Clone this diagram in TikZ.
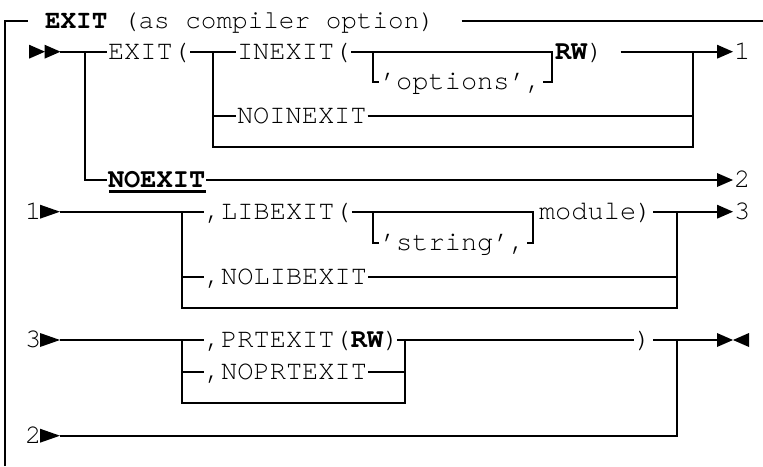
\documentclass[tikz,border=0pt]{standalone}
\usepackage{fontspec}
\newfontfamily\cour{texgyrecursor-regular.otf}[BoldFont=texgyrecursor-bold.otf]
\begin{document}
\begin{tikzpicture}[x=1pt,y=-1pt,line width=2pt,
  txt/.style={anchor=west,inner sep=0pt,text height=18pt,text depth=2.8pt,
    font=\cour\fontsize{27}{30}\selectfont},
  ttl/.style={txt,font=\cour\fontsize{26}{30}\selectfont},
  tri/.pic={\fill (0,-7) -- (16,0) -- (0,7) -- cycle;},
  widetri/.pic={\fill (0,-7) -- (20,0) -- (0,7) -- cycle;},
  ltri/.pic={\fill (16,-7) -- (0,0) -- (16,7) -- cycle;}]
\useasboundingbox (0,0) rectangle (763,466);
\def\yA{20.7}\def\yB{51.7}\def\yC{81.7}\def\yD{115.5}\def\yE{146.7}
\def\yF{180}\def\yG{211.7}\def\yH{243}\def\yI{276.7}\def\yJ{307.7}
\def\yK{340}\def\yL{371.7}\def\yM{403.3}\def\yN{435.7}
% title and left border
\coordinate (bl) at (5,466);
\coordinate (tl) at (5,\yA);
\node[ttl] (title) at (44,\yA) {\textbf{EXIT} (as compiler option)};
\coordinate (tr) at (763,\yA);
\draw (bl) -- (tl) -- (28,\yA);
\draw (461.7,\yA) -- (tr);
% row 1
\pic at (29,\yB) {tri};
\pic at (44.5,\yB) {tri};
\node[txt] (exit) at (107,\yB) {EXIT(};
\node[txt] (inexit) at (236,\yB) {INEXIT(};
\node[txt] (rw1) at (554,\yB) {\textbf{RW})};
\node[txt] (opts) at (379,\yC) {’options’,};
\node[txt] (one) at (733,\yB) {1};
\draw (60,\yB) -- (exit.west);
\draw (exit.east) -- (inexit.west);
\draw (inexit.east) -- (552,\yB) -- (552,\yC) -- (opts.east);
\draw (372.7,\yB) -- (372.7,\yC) -- (opts.west);
\draw (620.7,\yB) -- (717,\yB);
\pic at (717,\yB) {tri};
% NOINEXIT
\node[txt] (noinexit) at (236,\yD) {NOINEXIT};
\draw (212.7,\yD) -- (noinexit.west);
\draw (noinexit.east) -- (692.7,\yD);
\draw (212.7,\yB) -- (212.7,\yE) -- (692.7,\yE) -- (692.7,\yB);
% NOEXIT
\node[txt] (noexit) at (107,\yF) {\textbf{NOEXIT}};
\draw[line width=3pt] (109,191.5) -- (205.5,191.5);
\draw (85,\yB) -- (85,\yF) -- (noexit.west);
\draw (noexit.east) -- (717,\yF);
\pic at (717,\yF) {tri};
\node[txt] (two) at (733,\yF) {2};
% row 1 -> LIBEXIT
\node[txt] (one2) at (24,\yG) {1};
\pic at (40,\yG) {widetri};
\node[txt] (libexit) at (204,\yG) {,LIBEXIT(};
\node[txt] (str) at (379,\yH) {’string’,};
\node[txt] (module) at (538,\yG) {module)};
\node[txt] (three) at (733,\yG) {3};
\draw (60,\yG) -- (libexit.west);
\draw (libexit.east) -- (533.3,\yG) -- (533.3,\yH) -- (str.east);
\draw (373,\yG) -- (373,\yH) -- (str.west);
\draw (module.east) -- (717,\yG);
\pic at (717,\yG) {tri};
\node[txt] (nolib) at (204,\yI) {,NOLIBEXIT};
\draw (181.7,\yI) -- (nolib.west);
\draw (nolib.east) -- (676.7,\yI);
\draw (181.7,\yG) -- (181.7,\yJ) -- (676.7,\yJ) -- (676.7,\yG);
% row 3 -> PRTEXIT
\node[txt] (three2) at (24,\yK) {3};
\pic at (40,\yK) {widetri};
\node[txt] (prt) at (204,\yK) {,PRTEXIT(\textbf{RW})};
\node[txt] (close) at (634,\yK) {)};
\draw (60,\yK) -- (prt.west);
\draw (397.3,\yK) -- (close.west);
\draw (653.3,\yK) -- (717,\yK);
\pic at (717,\yK) {tri};
\pic at (733,\yK) {ltri};
\node[txt] (noprt) at (204,\yL) {,NOPRTEXIT};
\draw (181.7,\yL) -- (noprt.west);
\draw (noprt.east) -- (405,\yL);
\draw (181.7,\yK) -- (181.7,\yM) -- (405,\yM) -- (405,\yK);
% row 2 ->
\node[txt] (two2) at (24,\yN) {2};
\pic at (40,\yN) {widetri};
\draw (60,\yN) -- (676.7,\yN) -- (676.7,\yK);
\end{tikzpicture}
\end{document}
